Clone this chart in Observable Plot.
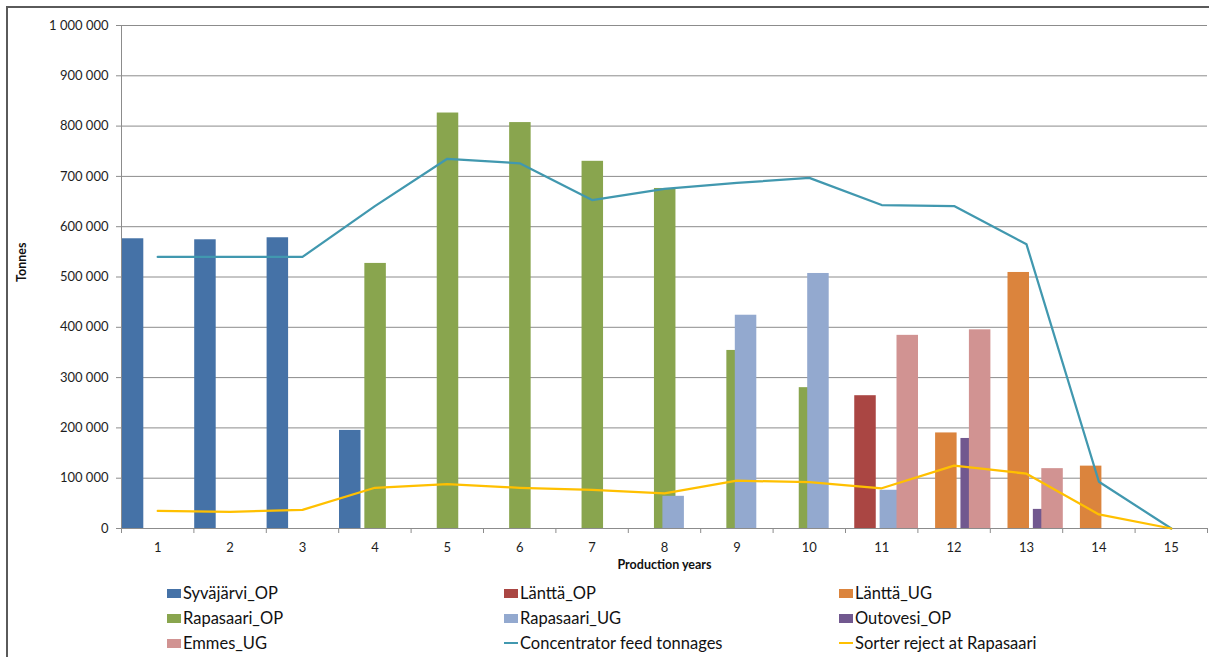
<!DOCTYPE html>
<html><head><meta charset="utf-8">
<script src="https://cdn.jsdelivr.net/npm/d3@7"></script>
<script src="https://cdn.jsdelivr.net/npm/@observablehq/plot@0.6"></script>
<style>
body{margin:0;background:#fff;font-family:Lato,"Open Sans",sans-serif;}
#wrap{position:relative;width:1209px;height:657px;overflow:hidden;background:#fff;}
#frame{position:absolute;left:6px;top:6px;width:1400px;height:900px;border:2px solid #5a5a5a;box-sizing:border-box;}
#chart{position:absolute;left:0;top:0;}
#legend{position:absolute;left:0;top:0;}
.item{position:absolute;display:flex;align-items:center;font-size:16.5px;color:#111;white-space:nowrap;height:20px;}
.sw{display:inline-block;width:14px;height:9px;margin-right:2px;}
.ln{display:inline-block;width:14px;height:2px;margin-right:2px;}
</style></head>
<body><div id="wrap"><div id="frame"></div><div id="chart"></div><div id="legend"></div></div>
<script>
const years = [1, 2, 3, 4, 5, 6, 7, 8, 9, 10, 11, 12, 13, 14, 15];
const seriesNames = ["Syväjärvi_OP", "Länttä_OP", "Länttä_UG", "Rapasaari_OP", "Rapasaari_UG", "Outovesi_OP", "Emmes_UG"];
const syvajarviOP  = [576000, 574000, 578000, 195000, 0, 0, 0, 0, 0, 0, 0, 0, 0, 0, 0];
const lanttaOP     = [0, 0, 0, 0, 0, 0, 0, 0, 0, 0, 264000, 0, 0, 0, 0];
const lanttaUG     = [0, 0, 0, 0, 0, 0, 0, 0, 0, 0, 0, 190000, 509000, 124000, 0];
const rapasaariOP  = [0, 0, 0, 527000, 826000, 807000, 730000, 676000, 354000, 280000, 0, 0, 0, 0, 0];
const rapasaariUG  = [0, 0, 0, 0, 0, 0, 0, 64000, 424000, 507000, 76000, 0, 0, 0, 0];
const outovesiOP   = [0, 0, 0, 0, 0, 0, 0, 0, 0, 0, 0, 179000, 38000, 0, 0];
const emmesUG      = [0, 0, 0, 0, 0, 0, 0, 0, 0, 0, 384000, 395000, 119000, 0, 0];
const concentratorFeed = [540000, 540000, 540000, 641000, 735000, 726000, 653000, 675000, 687000, 697000, 643000, 641000, 565000, 93000, 0];
const sorterReject     = [35000, 33000, 37000, 81000, 88000, 81000, 77000, 70000, 95000, 92000, 80000, 125000, 109000, 28000, 0];
const lineNames = ["Concentrator feed tonnages", "Sorter reject at Rapasaari"];
const yTicks = [0, 100000, 200000, 300000, 400000, 500000, 600000, 700000, 800000, 900000, 1000000];

const barColors = ["#4572A7", "#AA4643", "#DB843D", "#89A54E", "#93A9CF", "#71588F", "#D19392"];
const lineColors = ["#4198AF", "#FFC000"];

const seriesValues = [syvajarviOP, lanttaOP, lanttaUG, rapasaariOP, rapasaariUG, outovesiOP, emmesUG];
const bars = seriesValues.flatMap((vals, i) =>
  vals.map((v, j) => ({year: years[j], value: v, series: seriesNames[i], idx: i}))
).filter(d => d.value > 0);

// layout of clustered (overlapping) bars inside each category, in category units
const CAT = 72.4, OFF0 = 0.8, STEP = 8.45, BW = 21.5;
const bx1 = d => d.year - 0.5 + (OFF0 + d.idx * STEP) / CAT;
const bx2 = d => bx1(d) + BW / CAT;

const feed = years.map((y, j) => ({year: y, value: concentratorFeed[j]}));
const reject = years.map((y, j) => ({year: y, value: sorterReject[j]}));
const bounds = d3.range(0.5, 16, 1);

const fmt = d3.formatLocale({decimal: ",", thousands: "\u00a0", grouping: [3]}).format(",d");

const chart = Plot.plot({
  width: 1209,
  height: 580,
  marginLeft: 121,
  marginRight: 2,
  marginTop: 25,
  marginBottom: 52,
  style: {fontFamily: "Lato, 'Open Sans', sans-serif", background: "transparent", color: "#262626"},
  x: {type: "linear", domain: [0.5, 15.5]},
  y: {domain: [0, 1000000]},
  color: {domain: seriesNames, range: barColors},
  marks: [
    Plot.gridY(yTicks, {stroke: "#8c8c8c", strokeOpacity: 1, strokeWidth: 1}),
    Plot.axisY({ticks: yTicks, tickFormat: fmt, tickSize: 5, tickPadding: 8, fontSize: 13, stroke: "#8c8c8c", fill: "#1e1e1e", label: null}),
    Plot.axisX({ticks: bounds, tickFormat: () => "", tickSize: 5, stroke: "#8c8c8c", label: null}),
    Plot.axisX({ticks: years, tickSize: 0, tickPadding: 14, fontSize: 13, fill: "#1e1e1e", label: null}),
    Plot.rect(bars, {x1: bx1, x2: bx2, y1: 0, y2: "value", fill: "series"}),
    Plot.ruleY([0], {stroke: "#8c8c8c"}),
    Plot.ruleX([0.5], {stroke: "#8c8c8c"}),
    Plot.line(feed, {x: "year", y: "value", stroke: lineColors[0], strokeWidth: 2.25}),
    Plot.line(reject, {x: "year", y: "value", stroke: lineColors[1], strokeWidth: 2.25}),
    Plot.text(["Production years"], {text: d => d, frameAnchor: "bottom", dy: 40, fontWeight: "bold", fontSize: 12.5, fill: "#111"}),
    Plot.text(["Tonnes"], {text: d => d, frameAnchor: "left", dx: -100, dy: 5, rotate: -90, fontWeight: "bold", fontSize: 12.5, fill: "#111"})
  ]
});
document.getElementById("chart").appendChild(chart);

// legend (3 columns, row-major order like the original)
const legendItems = [
  ...seriesNames.map((n, i) => ({name: n, color: barColors[i], type: "bar"})),
  ...lineNames.map((n, i) => ({name: n, color: lineColors[i], type: "line"}))
];
const colX = [167, 504, 839];
const rowY = [593, 618, 643];
const lg = document.getElementById("legend");
legendItems.forEach((it, k) => {
  const div = document.createElement("div");
  div.className = "item";
  div.style.left = colX[k % 3] + "px";
  div.style.top = (rowY[Math.floor(k / 3)] - 10) + "px";
  const sw = document.createElement("span");
  sw.className = it.type === "bar" ? "sw" : "ln";
  sw.style.background = it.color;
  div.appendChild(sw);
  div.appendChild(document.createTextNode(it.name));
  lg.appendChild(div);
});
</script>
</body></html>
